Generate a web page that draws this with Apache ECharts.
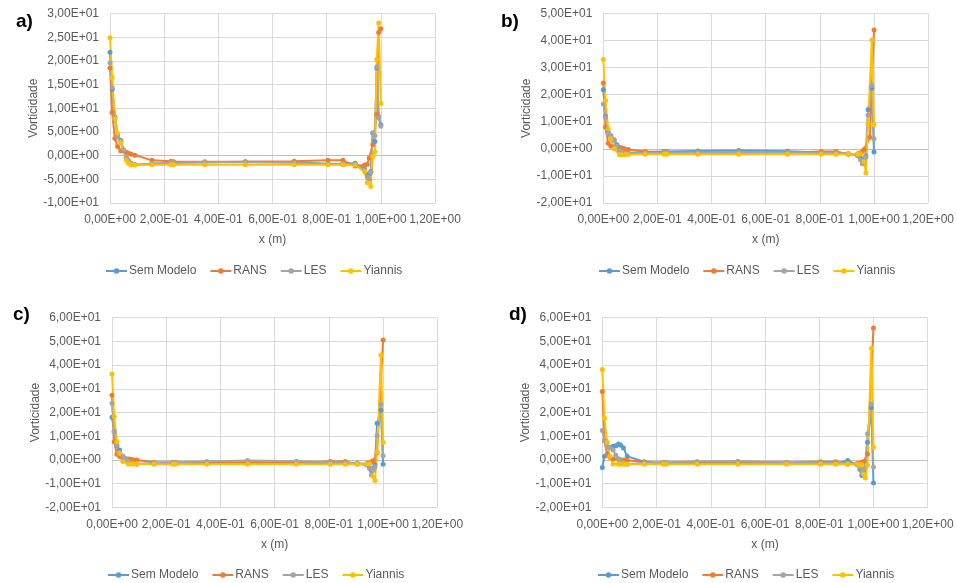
<!DOCTYPE html>
<html>
<head>
<meta charset="utf-8">
<script src="https://cdn.jsdelivr.net/npm/echarts@6/dist/echarts.min.js"></script>
<style>
  html, body { margin: 0; padding: 0; background: #fff; }
  #chart { width: 957px; height: 583px; }
</style>
</head>
<body>
<div id="chart"></div>
<script>
// posições x (m) comuns a todos os painéis
const X = [0, 0.008, 0.018, 0.028, 0.04, 0.05, 0.06, 0.068, 0.078, 0.092, 0.155, 0.225, 0.235, 0.35, 0.5, 0.68, 0.805, 0.86, 0.905, 0.94, 0.95, 0.957, 0.963, 0.97, 0.978, 0.985, 0.992, 1.0];

const names = ['Sem Modelo', 'RANS', 'LES', 'Yiannis'];

// a)
const semA  = [21.8, 14.0, 8.0, 4.3, 3.2, 1.2, -0.5, -1.2, -1.7, -1.9, -1.7, -1.5, -1.5, -1.4, -1.3, -1.4, -1.7, -1.7, -1.6, -2.8, -4.0, -3.8, -3.3, 4.8, 3.0, 18.5, 8.2, 6.5];
const ransA = [18.5, 9.1, 3.6, 1.9, 1.0, null, 0.7, 0.5, 0.3, 0.1, -1.0, -1.2, -1.3, -1.3, -1.3, -1.2, -1.0, -1.0, -2.2, -2.0, -1.8, -0.5, null, 2.3, null, 8.7, 26.0, 26.8];
const lesA  = [19.6, 14.4, 8.2, 4.0, 3.0, 1.2, -0.2, -1.0, -1.6, -1.9, -1.7, -1.5, -1.5, -1.4, -1.4, -1.5, -1.8, -1.8, -1.9, -3.0, -4.5, -5.0, -3.5, 4.8, 4.2, 18.7, 8.0, 6.2];
const yiaA  = [24.9, 16.5, 7.8, 4.8, 2.7, null, -0.95, -1.6, -2.0, -2.0, -1.9, -1.9, -1.9, -1.9, -1.9, -1.9, -1.9, -1.9, -2.0, -3.4, -5.7, null, -6.5, -0.2, 0.8, 20.3, 28.0, 11.0];

// b)
const semB  = [21.8, 12.0, 6.0, 4.8, 3.4, 1.5, -0.5, -1.2, -1.5, -1.5, -1.2, -1.0, -1.0, -0.8, -0.6, -0.9, -1.3, -1.4, -1.8, -2.5, -3.5, -4.5, -4.0, -2.5, 14.4, null, 22.5, -1.2];
const ransB = [24.3, 8.0, 2.1, 1.0, 0.6, null, 0.6, 0.3, 0.0, -0.2, -1.0, -1.3, -1.3, -1.4, -1.4, -1.3, -1.0, -1.0, -2.0, -1.8, -1.5, -1.0, -0.2, null, null, 4.3, null, 43.9];
const lesB  = [16.6, 11.7, 5.5, 4.5, 3.0, 1.0, -0.5, -1.2, -1.5, -1.6, -1.5, -1.4, -1.4, -1.3, -1.2, -1.3, -1.5, -1.6, -1.8, -2.5, -4.0, -5.5, -5.0, -3.0, 12.5, null, 23.4, 3.7];
const yiaB  = [33.0, 17.8, 7.4, 3.7, 0.0, null, -2.2, -2.2, -2.2, -2.1, -2.0, -2.0, -2.0, -2.0, -2.0, -2.0, -2.0, -2.0, -2.0, -2.0, -1.8, null, -4.7, -8.9, 9.2, null, 40.2, 8.9];

// c)
const semC  = [18.0, 12.0, 6.0, 4.2, 1.5, 0.5, -0.8, -1.3, -1.6, -1.7, -1.6, -1.5, -1.5, -1.3, -1.0, -1.2, -1.5, -1.5, -1.6, -2.2, -3.5, -4.5, -3.5, -2.0, 15.5, null, 21.0, -1.8];
const ransC = [27.3, 7.7, 2.4, 1.4, 0.7, null, 0.4, 0.3, 0.1, 0.0, -1.0, -1.2, -1.2, -1.2, -1.2, -1.1, -0.7, -0.7, -1.7, -1.5, -1.2, -0.8, -0.4, null, 3.0, null, null, 50.6];
const lesC  = [23.9, 11.9, 6.3, 3.0, 1.5, 0.5, -0.8, -1.2, -1.5, -1.7, -1.2, -1.0, -1.0, -0.7, -0.3, -0.6, -1.0, -1.2, -1.3, -2.0, -3.5, -6.5, -4.5, -3.0, 10.3, null, 23.5, 1.8];
const yiaC  = [36.2, 18.3, 7.7, 2.8, -0.7, null, -1.7, -1.7, -1.7, -1.7, -1.8, -1.8, -1.8, -1.8, -1.8, -1.8, -1.8, -1.8, -1.8, -1.7, -1.6, null, -7.0, -8.7, 3.2, null, 44.3, 7.3];

// d)
const semD  = [-3.2, 1.5, 2.3, 5.3, 5.8, 6.0, 6.7, 6.2, 5.0, 1.5, -0.8, -1.5, -1.5, -1.4, -1.2, -1.4, -1.5, -1.5, -0.3, -2.0, -4.0, -6.6, -5.0, -2.0, 7.4, null, 22.0, -9.7];
const ransD = [28.9, 8.1, 2.1, 1.1, 0.4, null, 0.2, 0.1, 0.0, -0.1, -1.0, -1.1, -1.1, -1.2, -1.2, -1.1, -0.8, -0.8, -1.7, -1.5, -1.3, -1.0, -0.8, null, 2.5, null, null, 55.7];
const lesD  = [12.4, 8.1, 5.5, 5.0, 4.2, 2.0, 0.5, -0.5, -1.2, -1.8, -1.3, -1.0, -1.0, -0.7, -0.6, -1.0, -1.2, -1.3, -1.4, -2.0, -3.0, -5.0, -4.0, -2.5, 11.0, null, 23.6, -3.1];
const yiaD  = [38.1, 17.6, 7.4, 1.5, -1.7, null, -1.8, -1.8, -1.8, -1.8, -1.8, -1.8, -1.8, -1.8, -1.8, -1.8, -1.8, -1.8, -1.8, -1.7, -1.9, -2.0, -5.9, -7.6, -2.1, null, 47.1, 5.3];

const colors = ['#5B9BD5', '#ED7D31', '#A5A5A5', '#FFC000'];
const txt = '#595959';
const font = 'Liberation Sans';

const panels = [
  { tag: 'a)', ys: [semA, ransA, lesA, yiaA], min: -10, max: 30, step: 5,
    grid: { left: 110, top: 13.5, width: 325, height: 189.5 }, leg: { left: 105, top: 265 }, tagPos: { left: 11, top: 7 } },
  { tag: 'b)', ys: [semB, ransB, lesB, yiaB], min: -20, max: 50, step: 10,
    grid: { left: 603.3, top: 13.5, width: 325, height: 189.5 }, leg: { left: 598, top: 265 }, tagPos: { left: 496, top: 7 } },
  { tag: 'c)', ys: [semC, ransC, lesC, yiaC], min: -20, max: 60, step: 10,
    grid: { left: 112, top: 317.7, width: 325.3, height: 189.6 }, leg: { left: 107, top: 569 }, tagPos: { left: 8, top: 300 } },
  { tag: 'd)', ys: [semD, ransD, lesD, yiaD], min: -20, max: 60, step: 10,
    grid: { left: 602.3, top: 317.7, width: 325.4, height: 189.6 }, leg: { left: 597, top: 569 }, tagPos: { left: 504, top: 300 } }
];

// 3 -> "3,00E+01"
function sci(v) {
  const s = Number(v).toExponential(2);
  const parts = s.split('e');
  const sign = parts[1][0] === '-' ? '-' : '+';
  let d = parts[1].replace(/[+-]/, '');
  if (d.length < 2) d = '0' + d;
  return parts[0].replace('.', ',') + 'E' + sign + d;
}

const option = {
  animation: false,
  backgroundColor: '#fff',
  title: [], grid: [], xAxis: [], yAxis: [], legend: [], series: []
};

panels.forEach(function (p, i) {
  option.title.push({
    text: p.tag, left: p.tagPos.left, top: p.tagPos.top,
    textStyle: { fontSize: 19, fontWeight: 'bold', color: '#000', fontFamily: font }
  });
  option.grid.push(p.grid);
  option.xAxis.push({
    type: 'value', gridIndex: i, min: 0, max: 1.2, interval: 0.2,
    name: 'x (m)', nameLocation: 'middle', nameGap: 31,
    nameTextStyle: { color: txt, fontSize: 12, fontFamily: font },
    axisLine: { show: false, onZero: false },
    axisTick: { show: false },
    axisLabel: { color: txt, fontSize: 12, fontFamily: font, margin: 11, formatter: sci },
    splitLine: { lineStyle: { color: '#D9D9D9', width: 1 } }
  });
  option.yAxis.push({
    type: 'value', gridIndex: i, min: p.min, max: p.max, interval: p.step,
    name: 'Vorticidade', nameLocation: 'middle', nameGap: 70,
    nameTextStyle: { color: txt, fontSize: 12, fontFamily: font },
    axisLine: { show: true, lineStyle: { color: '#D9D9D9' } },
    axisTick: { show: false },
    axisLabel: { color: txt, fontSize: 12, fontFamily: font, margin: 11, formatter: sci },
    splitLine: { lineStyle: { color: '#D9D9D9', width: 1 } }
  });
  option.legend.push({
    data: names, left: p.leg.left, top: p.leg.top, padding: 0,
    itemWidth: 21, itemHeight: 7, itemGap: 13,
    selectedMode: false,
    textStyle: { color: txt, fontSize: 12, fontFamily: font, padding: [0, 0, 0, -3] }
  });
  p.ys.forEach(function (ys, k) {
    option.series.push({
      name: names[k], type: 'line', xAxisIndex: i, yAxisIndex: i,
      data: X.map(function (x, j) { return [x, ys[j]]; }).filter(function (d) { return d[1] !== null; }),
      color: colors[k], symbol: 'circle', symbolSize: 5,
      lineStyle: { width: 2, color: colors[k] },
      itemStyle: { color: colors[k] }
    });
  });
});

// linha do eixo horizontal em y = 0
panels.forEach(function (p, i) {
  option.xAxis.push({
    type: 'value', gridIndex: i, min: 0, max: 1.2, position: 'top',
    axisLine: { show: true, onZero: true, lineStyle: { color: '#BFBFBF', width: 1 } },
    axisTick: { show: false }, axisLabel: { show: false }, splitLine: { show: false }
  });
});

const chart = echarts.init(document.getElementById('chart'));
chart.setOption(option);
</script>
</body>
</html>
